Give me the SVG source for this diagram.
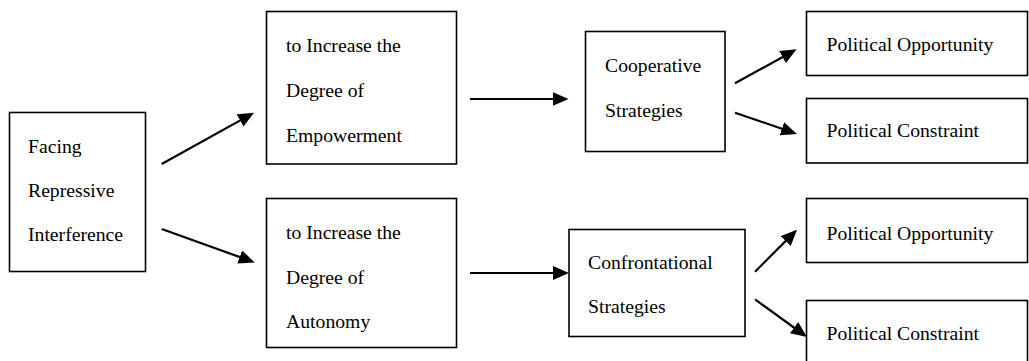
<svg xmlns="http://www.w3.org/2000/svg" width="1029" height="361" viewBox="0 0 1029 361">
<style>
.box{fill:#fff;stroke:#000;stroke-width:1.6}
.t{font-size:19.7px;fill:#000}
.c{stroke:#000;stroke-width:2.2;fill:none;marker-end:url(#ah)}
</style>
<defs>
<marker id="ah" markerUnits="userSpaceOnUse" markerWidth="16" markerHeight="14" refX="10" refY="7" orient="auto">
<path d="M0,0 L16,7 L0,14 z" fill="#000"/>
</marker>
</defs>
<rect width="1029" height="361" fill="#fff"/>
<g font-family="Liberation Serif, Tinos, Times New Roman, DejaVu Serif, serif">
<g id="n-facing">
<rect class="box" x="9.5" y="112.5" width="136" height="159"/>
<text class="t" x="28" y="153">Facing</text>
<text class="t" x="28" y="197">Repressive</text>
<text class="t" x="28" y="241">Interference</text>
</g>
<g id="n-empowerment">
<rect class="box" x="266.5" y="11.5" width="190" height="152.5"/>
<text class="t" x="286" y="52">to Increase the</text>
<text class="t" x="286" y="97">Degree of</text>
<text class="t" x="286" y="142">Empowerment</text>
</g>
<g id="n-autonomy">
<rect class="box" x="266.5" y="198.5" width="190" height="149"/>
<text class="t" x="286" y="239">to Increase the</text>
<text class="t" x="286" y="283.5">Degree of</text>
<text class="t" x="286" y="328">Autonomy</text>
</g>
<g id="n-cooperative">
<rect class="box" x="585.5" y="31.5" width="139.5" height="120"/>
<text class="t" x="605" y="72">Cooperative</text>
<text class="t" x="605" y="116.5">Strategies</text>
</g>
<g id="n-confrontational">
<rect class="box" x="569" y="229.5" width="176" height="107"/>
<text class="t" x="588" y="269">Confrontational</text>
<text class="t" x="588" y="313">Strategies</text>
</g>
<g id="n-po1">
<rect class="box" x="806.5" y="11.5" width="221" height="64"/>
<text class="t" x="826.5" y="51">Political Opportunity</text>
</g>
<g id="n-pc1">
<rect class="box" x="806.5" y="98.5" width="221" height="64.5"/>
<text class="t" x="826.5" y="137">Political Constraint</text>
</g>
<g id="n-po2">
<rect class="box" x="806.5" y="198.5" width="221" height="64"/>
<text class="t" x="826.5" y="239.5">Political Opportunity</text>
</g>
<g id="n-pc2">
<rect class="box" x="806.5" y="300.5" width="221" height="64"/>
<text class="t" x="826.5" y="340">Political Constraint</text>
</g>
</g>
<g id="connectors">
<line class="c" x1="161.7" y1="164" x2="248.8" y2="115.6"/>
<line class="c" x1="161.7" y1="229" x2="249.1" y2="260.4"/>
<line class="c" x1="470" y1="99" x2="562.5" y2="99"/>
<line class="c" x1="470" y1="273" x2="563" y2="273"/>
<line class="c" x1="735" y1="83.3" x2="791.3" y2="52.2"/>
<line class="c" x1="735" y1="112.7" x2="791.3" y2="132"/>
<line class="c" x1="755" y1="271.7" x2="792.8" y2="233.9"/>
<line class="c" x1="755" y1="299.3" x2="802.1" y2="333.5"/>
</g>
</svg>
